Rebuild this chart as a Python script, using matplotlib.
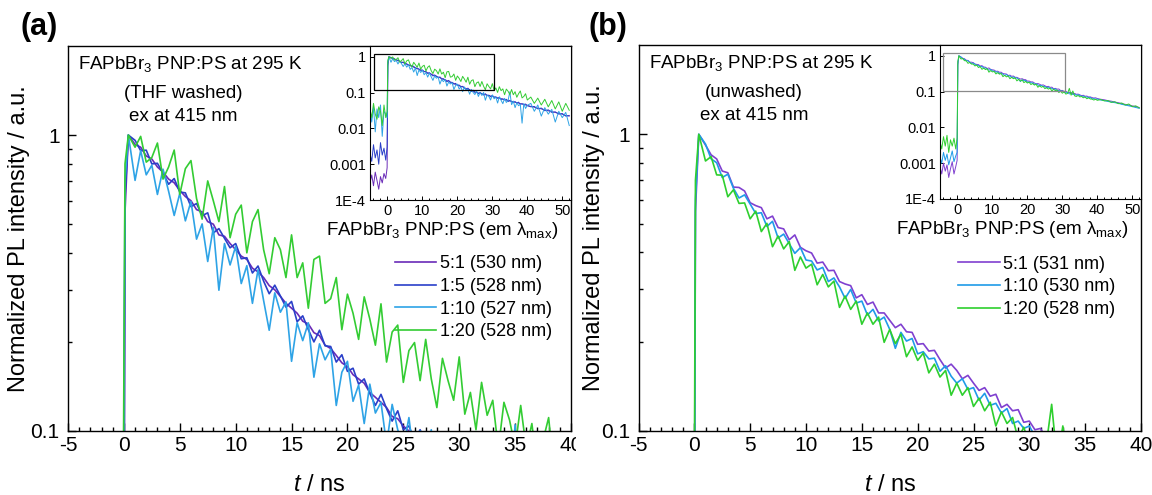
import matplotlib
matplotlib.use('Agg')
import matplotlib.pyplot as plt
from matplotlib.patches import Rectangle
from matplotlib.ticker import FixedLocator, FixedFormatter, MultipleLocator, NullFormatter
from matplotlib.transforms import Bbox, TransformedBbox

plt.rcParams['font.family'] = ['Liberation Sans', 'DejaVu Sans']
plt.rcParams['mathtext.fontset'] = 'custom'
plt.rcParams['mathtext.rm'] = 'Liberation Sans'
plt.rcParams['mathtext.it'] = 'Liberation Sans:italic'
plt.rcParams['axes.unicode_minus'] = False

## Time axis [ns] (shared by both panels)
t_ns = [-5.0, -4.5, -4.0, -3.5, -3.0, -2.5, -2.0, -1.5, -1.0, -0.5,
        -0.1, 0.1, 0.4,
        1.0, 1.5, 2.0, 2.5, 3.0, 3.5, 4.0, 4.5, 5.0, 5.5,
        6.0, 6.5, 7.0, 7.5, 8.0, 8.5, 9.0, 9.5, 10.0, 10.5,
        11.0, 11.5, 12.0, 12.5, 13.0, 13.5, 14.0, 14.5, 15.0, 15.5,
        16.0, 16.5, 17.0, 17.5, 18.0, 18.5, 19.0, 19.5, 20.0, 20.5,
        21.0, 21.5, 22.0, 22.5, 23.0, 23.5, 24.0, 24.5, 25.0, 25.5,
        26.0, 26.5, 27.0, 27.5, 28.0, 28.5, 29.0, 29.5, 30.0, 30.5,
        31.0, 31.5, 32.0, 32.5, 33.0, 33.5, 34.0, 34.5, 35.0, 35.5,
        36.0, 36.5, 37.0, 37.5, 38.0, 38.5, 39.0, 39.5, 40.0,
        41, 42, 43, 44, 45, 46, 47, 48, 49, 50, 51, 52]

## (a) THF washed
a_51 = [3e-4, 5e-4, 2.5e-4, 6e-4, 3.5e-4, 2e-4, 4.5e-4, 3e-4, 5.5e-4, 4e-4,
        8e-4, 0.55, 1.0,
        0.93, 0.91, 0.85, 0.83, 0.78, 0.75, 0.71, 0.69, 0.65, 0.62,
        0.60, 0.56, 0.55, 0.51, 0.50, 0.46, 0.455, 0.43, 0.41, 0.39,
        0.38, 0.355, 0.345, 0.33, 0.31, 0.30, 0.285, 0.27, 0.26, 0.25,
        0.235, 0.23, 0.215, 0.21, 0.195, 0.19, 0.18, 0.17, 0.165, 0.155,
        0.15, 0.145, 0.135, 0.13, 0.125, 0.12, 0.112, 0.11, 0.104, 0.10,
        0.097, 0.096, 0.092, 0.09, 0.087, 0.085, 0.082, 0.08, 0.078, 0.075,
        0.074, 0.071, 0.069, 0.068, 0.065, 0.064, 0.062, 0.06, 0.058, 0.057,
        0.055, 0.054, 0.052, 0.051, 0.049, 0.048, 0.047, 0.045, 0.044,
        0.041, 0.039, 0.037, 0.035, 0.033, 0.031, 0.029, 0.028, 0.026, 0.025, 0.023, 0.022]
a_15 = [2e-3, 1.2e-3, 3.5e-3, 1.5e-3, 2.5e-3, 1e-3, 4e-3, 1.8e-3, 2.8e-3, 1.3e-3,
        3e-3, 0.62, 1.0,
        0.96, 0.886, 0.889, 0.799, 0.803, 0.744, 0.682, 0.713, 0.642, 0.638,
        0.573, 0.587, 0.534, 0.546, 0.467, 0.483, 0.448, 0.416, 0.43, 0.382,
        0.385, 0.342, 0.361, 0.321, 0.291, 0.311, 0.286, 0.262, 0.274, 0.234,
        0.245, 0.22, 0.20, 0.219, 0.194, 0.193, 0.171, 0.181, 0.159, 0.163,
        0.144, 0.150, 0.134, 0.122, 0.133, 0.119, 0.108, 0.117, 0.101, 0.104,
        0.093, 0.101, 0.092, 0.085, 0.093, 0.082, 0.085, 0.076, 0.084, 0.074,
        0.076, 0.069, 0.074, 0.064, 0.067, 0.062, 0.065, 0.056, 0.061, 0.056,
        0.053, 0.056, 0.051, 0.054, 0.047, 0.049, 0.046, 0.048, 0.043,
        0.040, 0.041, 0.035, 0.037, 0.031, 0.033, 0.028, 0.029, 0.025, 0.026, 0.022, 0.023]
a_110 = [0.03, 0.015, 0.04, 0.008, 0.035, 0.02, 0.045, 0.006, 0.03, 0.025,
         0.02, 0.7, 1.0,
         0.703, 0.886, 0.734, 0.791, 0.63, 0.767, 0.646, 0.535, 0.635, 0.513,
         0.597, 0.445, 0.501, 0.374, 0.487, 0.299, 0.43, 0.364, 0.421, 0.315,
         0.362, 0.27, 0.351, 0.276, 0.219, 0.293, 0.252, 0.273, 0.172, 0.232,
         0.202, 0.232, 0.152, 0.197, 0.174, 0.189, 0.122, 0.158, 0.172, 0.126,
         0.143, 0.106, 0.144, 0.115, 0.125, 0.09, 0.123, 0.101, 0.088, 0.111,
         0.078, 0.10, 0.083, 0.101, 0.061, 0.085, 0.078, 0.062, 0.086, 0.067,
         0.075, 0.051, 0.076, 0.061, 0.049, 0.069, 0.053, 0.06, 0.105, 0.046,
         0.058, 0.038, 0.052, 0.043, 0.047, 0.014, 0.049, 0.036, 0.044,
         0.05, 0.03, 0.045, 0.022, 0.038, 0.025, 0.034, 0.015, 0.03, 0.02, 0.028, 0.012]
a_120 = [0.035, 0.02, 0.05, 0.025, 0.018, 0.04, 0.03, 0.012, 0.045, 0.02,
         0.03, 0.8, 1.0,
         0.91, 0.99, 0.81, 0.84, 0.94, 0.71, 0.78, 0.89, 0.63, 0.77,
         0.82, 0.61, 0.52, 0.70, 0.60, 0.51, 0.67, 0.45, 0.54, 0.58,
         0.40, 0.51, 0.56, 0.41, 0.34, 0.45, 0.41, 0.33, 0.46, 0.33,
         0.37, 0.26, 0.38, 0.39, 0.27, 0.28, 0.33, 0.22, 0.29, 0.25,
         0.204, 0.284, 0.239, 0.195, 0.269, 0.171, 0.216, 0.228, 0.146, 0.187,
         0.199, 0.148, 0.204, 0.15, 0.12, 0.176, 0.148, 0.127, 0.178, 0.114,
         0.135, 0.101, 0.146, 0.113, 0.127, 0.087, 0.125, 0.109, 0.088, 0.122,
         0.087, 0.106, 0.074, 0.093, 0.111, 0.071, 0.078, 0.093, 0.062,
         0.075, 0.05, 0.07, 0.045, 0.065, 0.04, 0.06, 0.035, 0.055, 0.03, 0.05, 0.032]

## (b) unwashed
b_51 = [8e-4, 5e-4, 1.0e-3, 6e-4, 9e-4, 4e-4, 7e-4, 1.1e-3, 5e-4, 8e-4,
        1.2e-3, 0.55, 1.0,
        0.92, 0.853, 0.826, 0.752, 0.742, 0.664, 0.662, 0.644, 0.588, 0.575,
        0.566, 0.519, 0.53, 0.485, 0.48, 0.441, 0.458, 0.416, 0.405, 0.398,
        0.368, 0.371, 0.347, 0.348, 0.319, 0.313, 0.309, 0.281, 0.288, 0.267,
        0.272, 0.25, 0.25, 0.236, 0.223, 0.229, 0.216, 0.215, 0.196, 0.197,
        0.186, 0.187, 0.174, 0.163, 0.168, 0.16, 0.15, 0.154, 0.145, 0.137,
        0.14, 0.131, 0.133, 0.12, 0.123, 0.117, 0.118, 0.107, 0.108, 0.101,
        0.102, 0.094, 0.095, 0.095, 0.087, 0.089, 0.084, 0.085, 0.081, 0.077,
        0.079, 0.074, 0.075, 0.071, 0.071, 0.068, 0.066, 0.067, 0.064,
        0.061, 0.059, 0.056, 0.054, 0.051, 0.049, 0.046, 0.044, 0.042, 0.040, 0.038, 0.036]
b_110 = [1.5e-3, 1.0e-3, 2.0e-3, 1.2e-3, 1.8e-3, 9e-4, 1.4e-3, 2.2e-3, 1.1e-3, 1.6e-3,
         2e-3, 0.6, 1.0,
         0.927, 0.827, 0.802, 0.715, 0.734, 0.658, 0.61, 0.625, 0.582, 0.541,
         0.544, 0.489, 0.509, 0.447, 0.461, 0.428, 0.397, 0.415, 0.377, 0.374,
         0.349, 0.356, 0.319, 0.328, 0.306, 0.28, 0.30, 0.27, 0.274, 0.246,
         0.257, 0.235, 0.242, 0.22, 0.19, 0.215, 0.201, 0.205, 0.182, 0.185,
         0.175, 0.176, 0.159, 0.166, 0.153, 0.145, 0.15, 0.138, 0.14, 0.127,
         0.134, 0.122, 0.124, 0.115, 0.119, 0.106, 0.108, 0.102, 0.104, 0.096,
         0.092, 0.095, 0.086, 0.089, 0.083, 0.085, 0.079, 0.082, 0.077, 0.074,
         0.075, 0.07, 0.071, 0.068, 0.069, 0.062, 0.064, 0.061, 0.062,
         0.058, 0.056, 0.053, 0.051, 0.049, 0.047, 0.044, 0.042, 0.04, 0.038, 0.036, 0.034]
b_120 = [4e-3, 2.5e-3, 5.5e-3, 3e-3, 6e-3, 2e-3, 4.5e-3, 3e-3, 5e-3, 2.5e-3,
         5e-3, 0.7, 1.0,
         0.813, 0.841, 0.73, 0.728, 0.616, 0.65, 0.585, 0.587, 0.519, 0.551,
         0.47, 0.501, 0.418, 0.454, 0.411, 0.435, 0.348, 0.386, 0.354, 0.365,
         0.311, 0.337, 0.306, 0.32, 0.261, 0.285, 0.257, 0.274, 0.229, 0.25,
         0.229, 0.242, 0.199, 0.22, 0.197, 0.212, 0.178, 0.192, 0.173, 0.183,
         0.157, 0.168, 0.152, 0.16, 0.132, 0.145, 0.132, 0.14, 0.121, 0.129,
         0.117, 0.125, 0.104, 0.116, 0.106, 0.111, 0.094, 0.103, 0.09, 0.099,
         0.085, 0.089, 0.123, 0.079, 0.104, 0.076, 0.073, 0.078, 0.071, 0.073,
         0.067, 0.071, 0.063, 0.067, 0.062, 0.062, 0.058, 0.061, 0.057,
         0.06, 0.055, 0.056, 0.05, 0.052, 0.046, 0.048, 0.042, 0.045, 0.038, 0.04, 0.035]

## Series definitions: (values, label, colour)
series_a = [(a_51, '5:1 (530 nm)', '#6a2bb8'),
            (a_15, '1:5 (528 nm)', '#2a3fc9'),
            (a_110, '1:10 (527 nm)', '#2ea3e6'),
            (a_120, '1:20 (528 nm)', '#33cc33')]
series_b = [(b_51, '5:1 (531 nm)', '#8040d0'),
            (b_110, '1:10 (530 nm)', '#1f9be8'),
            (b_120, '1:20 (528 nm)', '#2ecf2e')]
notes_a = ['(THF washed)', 'ex at 415 nm']
notes_b = ['(unwashed)', 'ex at 415 nm']
box_a = (-3.9, 0.12, 30.6, 1.2)  # zoom box in inset (x0, y0, x1, y1)
box_b = (-4.0, 0.105, 30.9, 1.2)

W, H = 1152., 495.
fig = plt.figure(figsize=(11.52, 4.95), dpi=100)


def px_axes(l, t, r, b):
    return fig.add_axes([l/W, 1-b/H, (r-l)/W, (b-t)/H])


def make_panel(ax, ins, series, notes, box, boxcol, leg_anchor):
    for vals, lab, col in series:
        ax.plot(t_ns, vals, color=col, lw=1.2, label=lab)
        ins.plot(t_ns, vals, color=col, lw=0.7)
    ax.set_yscale('log')
    ax.set_xlim(-5, 40)
    ax.set_ylim(0.1, 2.0)
    ax.xaxis.set_major_locator(MultipleLocator(5))
    ax.xaxis.set_minor_locator(MultipleLocator(1))
    ax.yaxis.set_major_locator(FixedLocator([0.1, 1]))
    ax.yaxis.set_major_formatter(FixedFormatter(['0.1', '1']))
    ax.yaxis.set_minor_locator(FixedLocator([0.2, 0.3, 0.4, 0.5, 0.6, 0.7, 0.8, 0.9]))
    ax.yaxis.set_minor_formatter(NullFormatter())
    ax.tick_params(which='both', direction='in', top=False, right=False, width=1.0)
    ax.tick_params(which='major', length=6, labelsize=15)
    ax.tick_params(axis='y', which='major', pad=6)
    ax.tick_params(which='minor', length=3)
    for s in ax.spines.values():
        s.set_linewidth(1.0)
    ax.set_xlabel('$t$ / ns', fontsize=17)
    ax.xaxis.set_label_coords(0.5, -0.112)
    ax.set_ylabel('Normalized PL intensity / a.u.', fontsize=17)

    # text block top-left
    ax.text(0.02, 0.94, 'FAPbBr$_3$ PNP:PS at 295 K', transform=ax.transAxes,
            fontsize=13.5, va='baseline', ha='left')
    ax.text(0.23, 0.865, notes[0], transform=ax.transAxes, fontsize=13.5,
            va='baseline', ha='center')
    ax.text(0.23, 0.805, notes[1], transform=ax.transAxes, fontsize=13.5,
            va='baseline', ha='center')

    # legend with separate title line
    ax.text(0.512, 0.51, r'FAPbBr$_3$ PNP:PS (em λ$_\mathrm{max}$)',
            transform=ax.transAxes, fontsize=13.5, va='baseline', ha='left')
    ax.legend(loc='upper left', bbox_to_anchor=leg_anchor, frameon=False,
              fontsize=13, handlelength=2.3, handletextpad=0.2,
              labelspacing=0.31, borderpad=0, borderaxespad=0)

    # inset
    ins.set_yscale('log')
    ins.set_xlim(-5, 52.5)
    ins.set_ylim(1e-4, 2.0)
    ins.yaxis.set_major_locator(FixedLocator([1e-4, 1e-3, 1e-2, 0.1, 1]))
    ins.yaxis.set_major_formatter(FixedFormatter(['1E-4', '0.001', '0.01', '0.1', '1']))
    ins.yaxis.set_minor_locator(FixedLocator([]))
    ins.xaxis.set_major_locator(MultipleLocator(10))
    ins.xaxis.set_minor_locator(MultipleLocator(2))
    ins.tick_params(which='both', direction='in', top=False, right=False,
                    labelsize=10.5, width=0.7)
    ins.tick_params(which='major', length=3, pad=3)
    ins.tick_params(which='minor', length=1.5)
    for s in ins.spines.values():
        s.set_linewidth(0.8)
    x0, y0, x1, y1 = box
    ins.add_patch(Rectangle((x0, y0), x1-x0, y1-y0, fill=False,
                            ec=boxcol, lw=0.9, zorder=5))


ax_a = px_axes(68, 46, 571, 431)
in_a = px_axes(370, 46, 571, 200)
ax_b = px_axes(638.5, 45, 1141, 431)
in_b = px_axes(940, 45, 1141, 199)

make_panel(ax_a, in_a, series_a, notes_a, box_a, 'black', (0.650, 0.456))
make_panel(ax_b, in_b, series_b, notes_b, box_b, '#8a8a8a', (0.636, 0.454))
ax_a.yaxis.set_label_coords(-0.076, 0.5)
ax_b.yaxis.set_label_coords(-0.067, 0.5)

fig.text(20/W, 1-27/H, '(a)', fontsize=22, fontweight='bold', va='center', ha='left')
fig.text(589/W, 1-27/H, '(b)', fontsize=22, fontweight='bold', va='center', ha='left')

# the left picture is cut at its right border, so clip its tick labels there
fig.canvas.draw()
clip = TransformedBbox(Bbox.from_extents(0, 0, 0.5, 1), fig.transFigure)
for lab in ax_a.get_xticklabels():
    lab.set_clip_on(True)
    lab.set_clip_box(clip)

fig.savefig('out.png', dpi=100)
